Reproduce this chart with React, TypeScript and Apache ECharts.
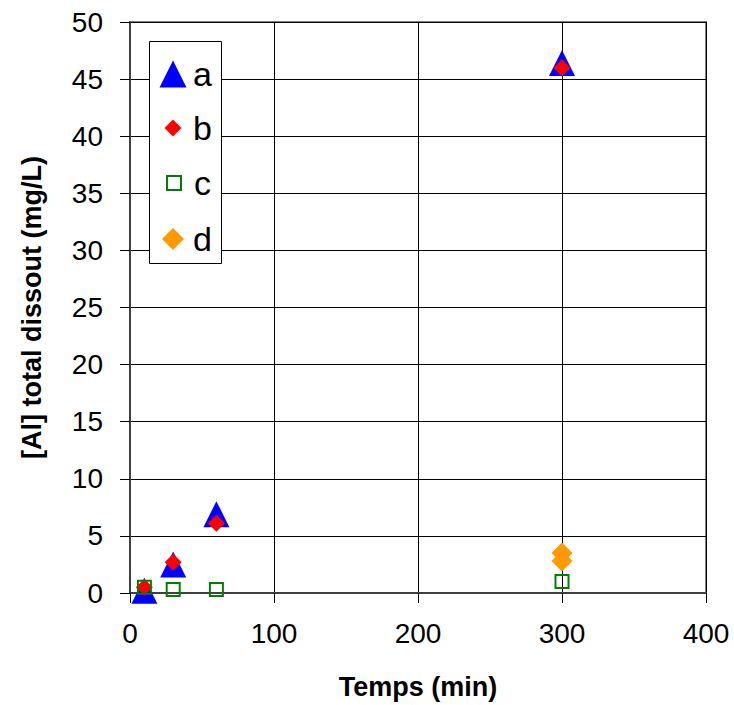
import React, { useEffect, useRef } from "react";
import * as echarts from "echarts";

const seriesNames = ["a", "b", "c", "d"];
const seriesA: [number, number][] = [[10, 0.2], [30, 2.5], [60, 6.9], [300, 46.4]];
const seriesB: [number, number][] = [[10, 0.5], [30, 2.7], [60, 6.1], [300, 46.0]];
const seriesC: [number, number][] = [[10, 0.5], [30, 0.3], [60, 0.3], [300, 1.0]];
const seriesD: [number, number][] = [[300, 3.5], [300, 2.8]];
const xTicks = [0, 100, 200, 300, 400];
const yTicks = [0, 5, 10, 15, 20, 25, 30, 35, 40, 45, 50];

const FONT = "Liberation Sans";

export default function App() {
  const ref = useRef<HTMLDivElement>(null);
  useEffect(() => {
    if (!ref.current) return;
    const chart = echarts.init(ref.current, undefined, { renderer: "svg" });
    const iconCenterX = 173;
    const textLeft = 193;
    const legendRows = [
      { name: seriesNames[0], icon: "triangle", size: 27, cy: 74, style: { color: "#0000FF", opacity: 1 } },
      { name: seriesNames[1], icon: "diamond", size: 17, cy: 128, style: { color: "#FF0000", opacity: 1 } },
      { name: seriesNames[2], icon: "rect", size: 14, cy: 183, style: { color: "rgba(0,0,0,0)", borderColor: "#008000", borderWidth: 2, opacity: 1 } },
      { name: seriesNames[3], icon: "diamond", size: 22, cy: 239, style: { color: "#FF9900", opacity: 1 } },
    ];
    chart.setOption({
      animation: false,
      grid: {
        left: 130,
        right: 28,
        top: 22,
        bottom: 112,
        show: true,
        borderColor: "#808080",
        borderWidth: 2,
        backgroundColor: "#fff",
      },
      graphic: [
        {
          type: "rect",
          z: 3,
          shape: { x: 149.5, y: 41.5, width: 72, height: 222 },
          style: { fill: "#fff", stroke: "#000", lineWidth: 1 },
        },
      ],
      legend: legendRows.map((r) => ({
        z: 5,
        left: iconCenterX - r.size / 2,
        top: r.cy - 17,
        padding: 0,
        itemWidth: r.size,
        itemHeight: r.size,
        data: [{ name: r.name, icon: r.icon, itemStyle: r.style }],
        selectedMode: false,
        textStyle: {
          fontFamily: FONT,
          fontSize: 34,
          lineHeight: 34,
          color: "#000",
          padding: [0, 0, 0, textLeft - (iconCenterX + r.size / 2 + 5)],
        },
      })),
      xAxis: {
        type: "value",
        min: xTicks[0],
        max: xTicks[xTicks.length - 1],
        interval: 100,
        name: "Temps (min)",
        nameLocation: "middle",
        nameGap: 80,
        nameTextStyle: { fontFamily: FONT, fontWeight: "bold", fontSize: 27, color: "#000" },
        axisLine: { show: true, onZero: false, lineStyle: { color: "#404040", width: 2 } },
        axisTick: { show: true, length: 10, lineStyle: { color: "#000", width: 1 } },
        axisLabel: { margin: 26, fontFamily: FONT, fontSize: 28, color: "#000" },
        splitLine: { show: true, lineStyle: { color: "#000", width: 1 } },
      },
      yAxis: {
        type: "value",
        min: yTicks[0],
        max: yTicks[yTicks.length - 1],
        interval: 5,
        name: "[Al] total dissout (mg/L)",
        nameLocation: "middle",
        nameGap: 85,
        nameTextStyle: { fontFamily: FONT, fontWeight: "bold", fontSize: 27, color: "#000" },
        axisLine: { show: true, onZero: false, lineStyle: { color: "#404040", width: 2 } },
        axisTick: { show: true, length: 10, lineStyle: { color: "#000", width: 1 } },
        axisLabel: { margin: 27, fontFamily: FONT, fontSize: 28, color: "#000" },
        splitLine: { show: true, lineStyle: { color: "#000", width: 1 } },
      },
      series: [
        {
          name: seriesNames[0],
          type: "scatter",
          data: seriesA,
          symbol: "triangle",
          symbolSize: 26,
          itemStyle: { color: "#0000FF", opacity: 1 },
        },
        {
          name: seriesNames[1],
          type: "scatter",
          data: seriesB,
          symbol: "diamond",
          symbolSize: 17,
          itemStyle: { color: "#FF0000", opacity: 1 },
        },
        {
          name: seriesNames[2],
          type: "scatter",
          data: seriesC,
          symbol: "rect",
          symbolSize: 13,
          itemStyle: { color: "rgba(0,0,0,0)", borderColor: "#008000", borderWidth: 2, opacity: 1 },
        },
        {
          name: seriesNames[3],
          type: "scatter",
          data: seriesD,
          symbol: "diamond",
          symbolSize: 21,
          itemStyle: { color: "#FF9900", opacity: 1 },
        },
      ],
    });
    return () => chart.dispose();
  }, []);
  return (
    <div
      ref={ref}
      style={{ position: "fixed", left: 0, top: 0, width: 734, height: 705, background: "#fff" }}
    />
  );
}
